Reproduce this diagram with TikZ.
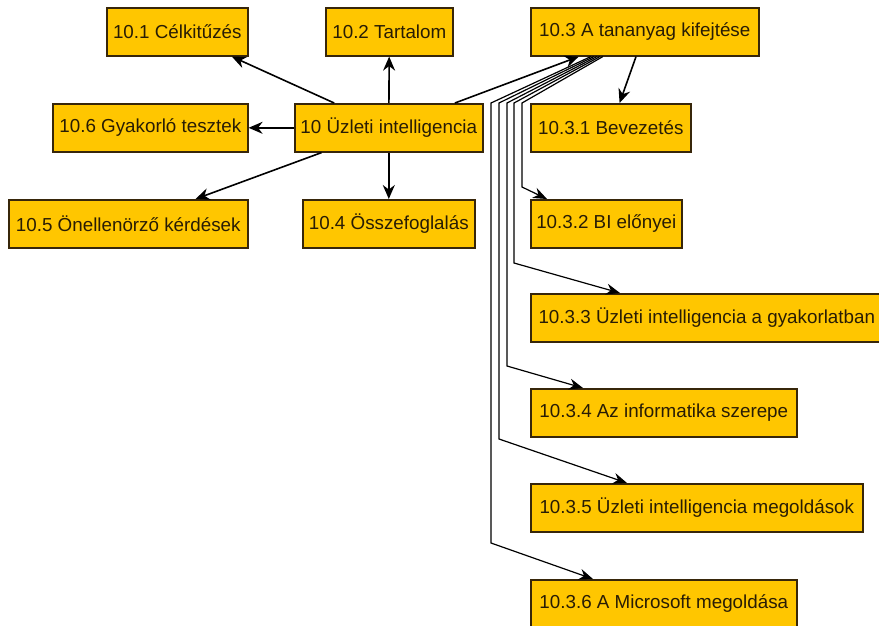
\documentclass[tikz,border=0pt]{standalone}
\usepackage{fontspec}
\setmainfont{Liberation Sans}
\usetikzlibrary{arrows.meta,calc}
\definecolor{boxfill}{RGB}{255,198,0}
\definecolor{boxline}{RGB}{55,38,10}
\definecolor{boxtext}{RGB}{40,28,5}
\begin{document}
\begin{tikzpicture}[x=1pt,y=-1pt,
  topic/.style={draw=boxline, line width=1.6pt, fill=boxfill, text=boxtext,
    font=\fontsize{18.8}{22}\selectfont, inner sep=0pt, anchor=north west,
    minimum height=48pt, align=center},
  link/.style={line width=1.6pt, -{Stealth[length=14pt,width=12pt]}},
  fan/.style={line width=1.2pt, -{Stealth[length=14pt,width=11pt]}}]
\useasboundingbox (0,0) rectangle (879,625);

% topics of chapter 10
\node[topic, minimum width=141pt] (c101) at (106,7) {10.1 Célkitűzés};
\node[topic, minimum width=127pt] (c102) at (325,7) {10.2 Tartalom};
\node[topic, minimum width=228pt] (c103) at (530,7) {10.3 A tananyag kifejtése};
\node[topic, minimum width=188pt] (root) at (294,103) {10 Üzleti intelligencia};
\node[topic, minimum width=195pt] (c106) at (52,103) {10.6 Gyakorló tesztek};
\node[topic, minimum width=239pt] (c105) at (8,199) {10.5 Önellenörző kérdések};
\node[topic, minimum width=172pt] (c104) at (302,199) {10.4 Összefoglalás};

% subtopics of 10.3
\node[topic, minimum width=160pt] (c1031) at (530,103) {10.3.1 Bevezetés};
\node[topic, minimum width=151pt] (c1032) at (530,199) {10.3.2 BI előnyei};
\node[topic, minimum width=352pt] (c1033) at (530,293) {10.3.3 Üzleti intelligencia a gyakorlatban};
\node[topic, minimum width=266pt] (c1034) at (530,388) {10.3.4 Az informatika szerepe};
\node[topic, minimum width=332pt] (c1035) at (530,483) {10.3.5 Üzleti intelligencia megoldások};
\node[topic, minimum width=266pt] (c1036) at (530,579) {10.3.6 A Microsoft megoldása};

% links from the chapter node
\draw[link] (root) -- (c101);
\draw[link] (root) -- (c102);
\draw[link] (root) -- (c103);
\draw[link] (root) -- (c106);
\draw[link] (root) -- (c105);
\draw[link] (root) -- (c104);
\draw[link] (c103) -- (c1031);

% fanned links down the left side of the subtopics
\draw[fan] ([xshift=-42pt]c103.south) -- (522,103) -- (522,187) -- ([xshift=17pt]c1032.north west);
\draw[fan] ([xshift=-45pt]c103.south) -- (514,103) -- (514,263) -- ([xshift=90pt]c1033.north west);
\draw[fan] ([xshift=-48pt]c103.south) -- (507,103) -- (507,366) -- ([xshift=53pt]c1034.north west);
\draw[fan] ([xshift=-51pt]c103.south) -- (499,103) -- (499,439) -- ([xshift=97pt]c1035.north west);
\draw[fan] ([xshift=-54pt]c103.south) -- (491,103) -- (491,543) -- ([xshift=63pt]c1036.north west);
\end{tikzpicture}
\end{document}
